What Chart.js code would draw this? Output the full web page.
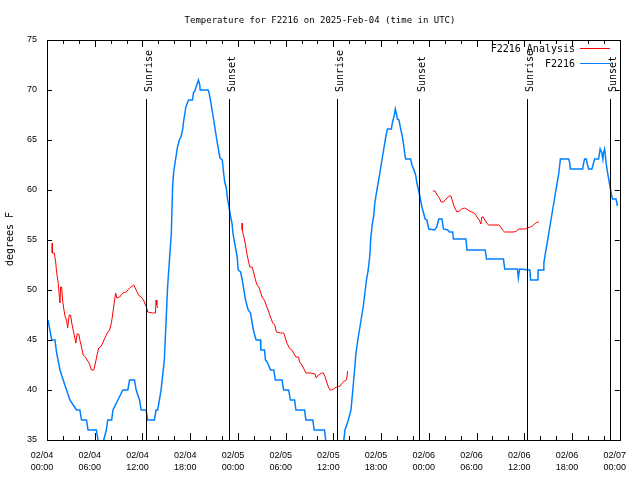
<!DOCTYPE html>
<html>
<head>
<meta charset="utf-8">
<script src="https://cdn.jsdelivr.net/npm/chart.js@4/dist/chart.umd.min.js"></script>
<style>
  html, body { margin: 0; padding: 0; background: #fff; }
  #wrap { width: 640px; height: 480px; }
</style>
</head>
<body>
<div id="wrap"><canvas id="chart" width="640" height="480"></canvas></div>
<script>
// hours since 2025-02-04 00:00 UTC
const dayLabels = ["02/04", "02/04", "02/04", "02/04", "02/05", "02/05", "02/05", "02/05", "02/06", "02/06", "02/06", "02/06", "02/07"];
const timeLabels = ["00:00", "06:00", "12:00", "18:00", "00:00", "06:00", "12:00", "18:00", "00:00", "06:00", "12:00", "18:00", "00:00"];

const stationHours = [
  0.13, 0.59, 1.0, 1.21, 1.63, 2.04, 2.46, 2.88, 3.29, 3.71, 4.13, 4.34, 4.96, 5.16, 6.21, 6.41, 6.5, 7.0, 7.13, 7.46,
  7.63, 8.13, 8.29, 8.91, 9.54, 10.16, 10.38, 11.0, 11.21, 11.63, 11.84, 12.46, 12.66, 13.5, 13.71, 13.91, 14.13, 14.34, 14.75, 15.16,
  15.63, 15.79, 15.91, 16.09, 16.21, 16.41, 16.63, 16.84, 17.04, 17.16, 17.34, 17.46, 17.79, 18.29, 18.41, 18.63, 18.91, 19.04, 19.21, 19.25,
  20.25, 20.38, 20.59, 20.79, 21.0, 21.21, 21.41, 21.63, 21.75, 22.04, 22.16, 22.34, 22.54, 22.66, 22.88, 23.09, 23.25, 23.41, 23.63, 23.91,
  24.04, 24.34, 24.54, 24.75, 24.96, 25.29, 25.59, 25.79, 26.0, 26.29, 26.84, 26.88, 27.34, 27.46, 27.75, 28.09, 28.5, 28.71, 29.54, 29.75,
  30.38, 30.59, 31.13, 31.29, 32.38, 32.54, 33.41, 33.59, 34.88, 35.04, 35.13, 37.25, 37.31, 37.46, 37.88, 38.21, 38.41, 38.63, 38.84, 39.13,
  39.34, 39.54, 39.75, 39.96, 40.16, 40.38, 40.59, 40.71, 40.91, 41.09, 41.21, 41.41, 41.63, 41.84, 42.04, 42.25, 42.46, 42.59, 42.79, 43.29,
  43.41, 43.63, 43.79, 43.96, 44.04, 44.25, 44.41, 44.63, 44.84, 44.96, 45.09, 45.71, 45.88, 46.13, 46.34, 46.5, 46.71, 46.91, 47.13, 47.34,
  47.54, 47.75, 48.0, 48.71, 49.0, 49.25, 49.66, 49.84, 50.38, 50.59, 51.0, 51.09, 52.66, 52.79, 55.09, 55.25, 57.38, 57.54, 59.13, 59.25,
  59.41, 60.71, 60.79, 61.71, 61.75, 62.38, 62.46, 62.66, 62.88, 63.09, 63.29, 63.5, 63.71, 63.91, 64.13, 64.34, 64.54, 65.59, 65.71, 65.79,
  67.34, 67.46, 67.59, 67.79, 67.96, 68.09, 68.5, 68.71, 68.84, 69.34, 69.46, 69.54, 69.75, 69.88, 69.96, 70.09, 70.16, 70.29, 70.46, 70.59,
  70.79, 70.91, 71.09, 71.54, 71.71
];
const stationTemps = [
  47, 45, 45, 43.7, 42, 41, 40, 39, 38.5, 38, 38, 37, 37, 36, 36, 35, 34, 34, 35, 36,
  37, 37, 38, 39, 40, 40, 41, 41, 40, 39, 38, 38, 37, 37, 38, 38, 39, 40, 43, 50.3,
  55.7, 60.3, 61.7, 62.7, 63.3, 64.3, 65, 65.3, 66, 66.8, 67.7, 68.3, 69, 69, 69.7, 70, 70.7, 71, 70.5, 70,
  70, 69.7, 68.8, 67.8, 66.8, 65.7, 64.7, 63.7, 63.2, 63, 62, 60.8, 60.2, 59.3, 58.3, 57.3, 56.7, 55.5, 54.5, 53.3,
  52, 51.8, 51, 50, 49, 48, 47.7, 46.7, 45.8, 45, 45, 44, 44, 43, 42.7, 42, 42, 41, 41, 40,
  40, 39, 39, 38, 38, 37, 37, 36, 36, 35, 34, 34, 35, 36, 37, 38, 39.7, 41.7, 43.7, 45.3,
  46.3, 47.3, 48.3, 49.7, 51, 52, 53.5, 55.3, 56.7, 57.5, 58.7, 59.7, 60.7, 61.7, 62.7, 63.7, 64.7, 65.3, 66.1, 66.1,
  66.7, 67.4, 68.1, 67.5, 67.1, 67, 66.3, 65.5, 64.5, 63.7, 63.1, 63.1, 62.5, 62, 61.5, 60.7, 60, 59.2, 58.3, 57.7,
  57.1, 57, 56.1, 56, 56.3, 57.1, 57.1, 56.1, 56, 55.8, 55.8, 55.1, 55.1, 54, 54, 53.1, 53.1, 52.1, 52.1, 51.2,
  52.1, 52, 51, 51, 52, 52, 52.7, 53.7, 54.7, 55.7, 56.7, 57.7, 58.7, 59.7, 60.7, 61.7, 63.1, 63.1, 62.7, 62.1,
  62.1, 62.7, 63.1, 63.1, 62.5, 62.1, 62.1, 62.7, 63.1, 63.1, 63.7, 64.1, 63.7, 63.1, 63.7, 64.1, 63.7, 62.7, 61.8, 61.2,
  60.3, 59.7, 59.1, 59.1, 58.4
];

// analysis series, null marks a gap between runs
const analysisHours = [
  0.66, 0.66, 0.91, 1.09, 1.21, 1.41, 1.63, 1.71, 1.84, 1.96, 2.13, 2.29, 2.46, 2.59, 2.79, 2.96, 3.09, 3.29, 3.5, 3.63,
  3.79, 4.0, 4.13, 4.34, 4.54, 4.84, 5.04, 5.29, 5.59, 5.88, 6.09, 6.29, 6.5, 6.71, 6.96, 7.16, 7.46, 7.66, 7.88, 8.09,
  8.21, 8.38, 8.5, 8.63, 8.79, 9.13, 9.54, 9.96, 10.38, 10.91, 11.21, 11.5, 11.84, 12.13, 12.38, 12.54, 12.66, 13.29, 13.63, 13.71,
  13.81, 13.91, 19.0,
  24.54, 24.54, 24.75, 24.96, 25.16, 25.38, 25.5, 25.79, 26.0, 26.21, 26.41, 26.63, 26.84, 27.04, 27.38, 27.59, 27.88, 28.09, 28.38, 28.63,
  28.84, 29.34, 29.75, 29.96, 30.16, 30.46, 30.79, 31.0, 31.29, 31.63, 31.75, 32.04, 32.25, 32.54, 33.09, 33.71, 33.84, 34.13, 34.54, 34.75,
  34.96, 35.16, 35.38, 35.59, 35.79, 36.0, 36.41, 36.84, 37.13, 37.38, 37.66, 37.79, 43.0,
  48.5, 48.79, 49.04, 49.34, 49.54, 49.84, 50.04, 50.29, 50.59, 50.79, 51.0, 51.21, 51.54, 51.84, 52.13, 52.46, 52.75, 53.09, 53.38, 53.71,
  53.91, 54.13, 54.34, 54.54, 54.66, 54.84, 55.04, 55.29, 55.5, 56.84, 57.04, 57.25, 57.54, 58.71, 59.04, 59.34, 60.16, 60.38, 60.79, 61.0,
  61.29, 61.63, 61.84
];
const analysisTemps = [
  54.7, 53.7, 53.7, 52.8, 51.8, 50.7, 48.7, 50.3, 50.3, 49, 48, 47.3, 47, 46.2, 47.5, 47.5, 46.8, 46, 45.2, 44.7,
  45.6, 45.6, 45, 44.3, 43.5, 43.3, 43, 42.7, 42, 42, 42.7, 43.5, 44.2, 44.3, 44.6, 45, 45.5, 45.8, 46, 46.7,
  47.3, 48.3, 49, 49.7, 49.2, 49.3, 49.7, 49.8, 50.2, 50.5, 50, 49.5, 49.3, 49, 48.5, 48.2, 47.8, 47.7, 47.7, 49,
  48.5, 48.2, null,
  56.7, 56, 55.3, 54.5, 53.5, 52.7, 52.3, 52.3, 51.7, 51, 50.5, 50.3, 49.8, 49.3, 48.9, 48.4, 47.8, 47.3, 46.7, 46.5,
  45.8, 45.7, 45.7, 45.2, 44.7, 44.2, 44, 43.7, 43.3, 43.3, 42.8, 42.5, 42.2, 41.7, 41.7, 41.6, 41.2, 41.5, 41.7, 41.7,
  41.3, 40.8, 40.3, 40, 40, 40.1, 40.3, 40.4, 40.7, 40.9, 41, 41.9, null,
  59.9, 59.9, 59.5, 59.2, 58.8, 58.8, 59, 59.2, 59.4, 59.4, 58.8, 58.3, 57.8, 57.9, 58.1, 58.2, 58.1, 57.9, 57.8, 57.7,
  57.5, 57.2, 57, 56.6, 57.3, 57.3, 57, 56.7, 56.5, 56.5, 56.3, 56, 55.8, 55.8, 55.9, 56.1, 56.1, 56.2, 56.3, 56.4,
  56.6, 56.8, 56.8
];

const sunHours = [12.41, 22.92, 36.42, 46.8, 60.29, 70.79];
const sunLabels = ["Sunrise", "Sunset", "Sunrise", "Sunset", "Sunrise", "Sunset"];

const MONO = "'DejaVu Sans Mono', monospace";

function toPoints(hours, temps) {
  return hours.map((h, i) => ({ x: h, y: temps[i] }));
}

// gnuplot-like decorations: frame, inward ticks, sun lines, title, legend, y label
const gnuplotDecor = {
  id: "gnuplotDecor",
  afterDatasetsDraw(chart) {
    const ctx = chart.ctx;
    const area = chart.chartArea;
    const xs = chart.scales.x;
    const ys = chart.scales.y;
    ctx.save();

    // sunrise / sunset lines
    ctx.strokeStyle = "#000";
    ctx.lineWidth = 1;
    ctx.fillStyle = "#000";
    ctx.font = "10px " + MONO;
    sunHours.forEach((h, i) => {
      const px = Math.round(xs.getPixelForValue(h)) + 0.5;
      ctx.beginPath();
      ctx.moveTo(px, 99);
      ctx.lineTo(px, area.bottom);
      ctx.stroke();
      ctx.save();
      ctx.translate(px + 5, 92);
      ctx.rotate(-Math.PI / 2);
      ctx.textAlign = "left";
      ctx.textBaseline = "alphabetic";
      ctx.fillText(sunLabels[i], 0, 0);
      ctx.restore();
    });

    // frame
    ctx.strokeRect(Math.round(area.left) + 0.5, Math.round(area.top) + 0.5,
      Math.round(area.right - area.left), Math.round(area.bottom - area.top));

    // x ticks every 2 hours, major every 6
    ctx.beginPath();
    for (let h = 0; h <= 72; h += 2) {
      const px = Math.round(xs.getPixelForValue(h)) + 0.5;
      const len = h % 6 === 0 ? 7 : 4;
      ctx.moveTo(px, area.bottom);
      ctx.lineTo(px, area.bottom - len);
      ctx.moveTo(px, area.top);
      ctx.lineTo(px, area.top + len);
    }
    // y ticks every 5 degrees
    for (let v = 35; v <= 75; v += 5) {
      const py = Math.round(ys.getPixelForValue(v)) + 0.5;
      ctx.moveTo(area.left, py);
      ctx.lineTo(area.left + 5, py);
      ctx.moveTo(area.right, py);
      ctx.lineTo(area.right - 5, py);
    }
    ctx.stroke();

    // title
    ctx.font = "9px " + MONO;
    ctx.textAlign = "center";
    ctx.textBaseline = "alphabetic";
    ctx.fillText("Temperature for F2216 on 2025-Feb-04 (time in UTC)", 320, 23);

    // y axis label
    ctx.font = "10px " + MONO;
    ctx.save();
    ctx.translate(13, 239);
    ctx.rotate(-Math.PI / 2);
    ctx.textAlign = "center";
    ctx.fillText("degrees F", 0, 0);
    ctx.restore();

    // legend
    ctx.textAlign = "right";
    chart.data.datasets.forEach((ds, i) => {
      const y = 48 + i * 15;
      ctx.fillStyle = "#000";
      ctx.fillText(ds.label, 575, y + 4);
      ctx.strokeStyle = ds.borderColor;
      ctx.beginPath();
      ctx.moveTo(580, y + 0.5);
      ctx.lineTo(610, y + 0.5);
      ctx.stroke();
    });

    ctx.restore();
  }
};

new Chart(document.getElementById("chart"), {
  type: "line",
  data: {
    datasets: [
      {
        label: "F2216 Analysis",
        data: toPoints(analysisHours, analysisTemps),
        borderColor: "#ff0000",
        borderWidth: 1,
        pointRadius: 0,
        tension: 0,
        spanGaps: false
      },
      {
        label: "F2216",
        data: toPoints(stationHours, stationTemps),
        borderColor: "#0080ff",
        borderWidth: 1.5,
        pointRadius: 0,
        tension: 0
      }
    ]
  },
  options: {
    responsive: false,
    animation: false,
    layout: { padding: { top: 40, right: 18, left: 0, bottom: 0 } },
    plugins: { legend: { display: false }, title: { display: false }, tooltip: { enabled: false } },
    scales: {
      x: {
        type: "linear",
        min: 0,
        max: 72,
        grid: { display: false, drawTicks: false },
        border: { display: false },
        afterFit: (s) => { s.height = 40; },
        afterBuildTicks: (s) => {
          s.ticks = timeLabels.map((t, i) => ({ value: i * 6 }));
        },
        ticks: {
          autoSkip: false,
          maxRotation: 0,
          labelOffset: -5,
          padding: 9,
          color: "#000",
          font: { family: "'Liberation Sans', Arial, sans-serif", size: 9, lineHeight: 1.35 },
          callback: (v) => {
            const i = Math.round(v / 6);
            return [dayLabels[i], timeLabels[i]];
          }
        }
      },
      y: {
        min: 35,
        max: 75,
        grid: { display: false, drawTicks: false },
        border: { display: false },
        afterFit: (s) => { s.width = 47; },
        ticks: {
          stepSize: 5,
          padding: 10,
          color: "#000",
          font: { family: "'Liberation Sans', Arial, sans-serif", size: 9 }
        }
      }
    }
  },
  plugins: [gnuplotDecor]
});
</script>
</body>
</html>
